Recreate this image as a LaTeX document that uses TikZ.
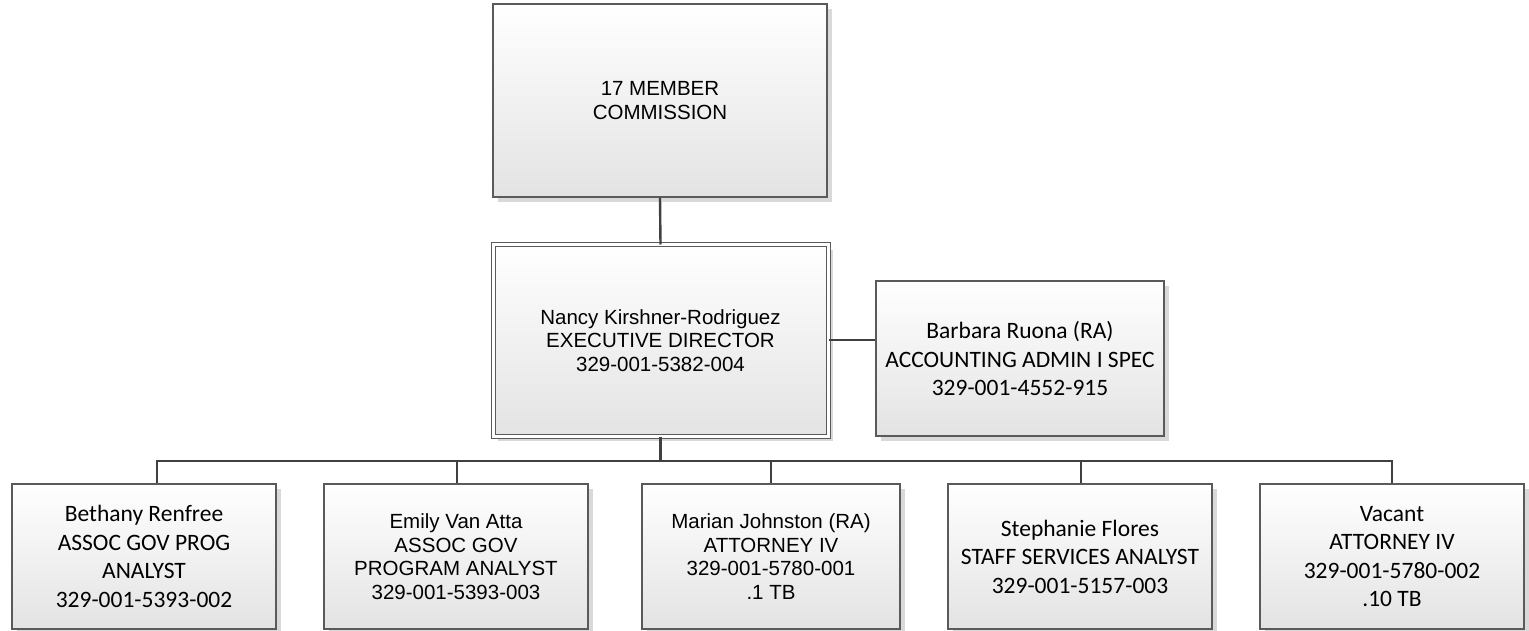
\documentclass[tikz,border=0pt]{standalone}
\usepackage{fontspec}
\setmainfont{Liberation Sans}
\newfontfamily\calfont{Carlito}
\usetikzlibrary{shadows}
\definecolor{boxline}{HTML}{5A5A5A}
\definecolor{conn}{HTML}{404040}
\tikzset{
  x=1pt, y=-1pt,
  orgbox/.style={draw=boxline, line width=1.1pt, shading=axis, top color=white, bottom color=black!11,
    drop shadow={fill=black!15, opacity=1, shadow xshift=5pt, shadow yshift=-5pt},
    align=center, inner sep=2pt, text=black},
  arialtxt/.style={font=\fontsize{20.5}{23.5}\selectfont},
  calitxt/.style={font=\calfont\fontsize{23.5}{28.5}\selectfont},
  link/.style={draw=conn, line width=2.4pt}
}
\begin{document}
\begin{tikzpicture}
\useasboundingbox (0,0) rectangle (1529,631);
% top
\node[orgbox, arialtxt, minimum width=334pt, minimum height=193pt] (comm) at (660,100.5) {17 MEMBER\\COMMISSION};
\node[orgbox, arialtxt, minimum width=335pt, minimum height=191pt, double=white, double distance=3pt, line width=1pt] (exec) at (660.5,340.5) {Nancy Kirshner-Rodriguez\\EXECUTIVE DIRECTOR\\329-001-5382-004};
\node[orgbox, calitxt, minimum width=288pt, minimum height=155pt] (barb) at (1020,358.5) {Barbara Ruona (RA)\\ACCOUNTING ADMIN I SPEC\\329-001-4552-915};
% bottom row
\node[orgbox, calitxt, minimum width=264pt, minimum height=145pt] (beth) at (144,556.5) {Bethany Renfree\\ASSOC GOV PROG\\ANALYST\\329-001-5393-002};
\node[orgbox, arialtxt, minimum width=264pt, minimum height=145pt] (emily) at (456,556.5) {Emily Van Atta\\ASSOC GOV\\PROGRAM ANALYST\\329-001-5393-003};
\node[orgbox, arialtxt, minimum width=258pt, minimum height=145pt] (marian) at (771,556.5) {Marian Johnston (RA)\\ATTORNEY IV\\329-001-5780-001\\.1 TB};
\node[orgbox, calitxt, minimum width=264pt, minimum height=145pt] (steph) at (1080,556.5) {Stephanie Flores\\STAFF SERVICES ANALYST\\329-001-5157-003};
\node[orgbox, calitxt, minimum width=264pt, minimum height=145pt] (vac) at (1392,556.5) {Vacant\\ATTORNEY IV\\329-001-5780-002\\.10 TB};
% connectors
\draw[link] (comm.south) -- (exec.north);
\draw[link] (exec.east |- 0,340) -- (barb.west |- 0,340);
\coordinate (busL) at (157,461);
\coordinate (busE) at (457,461);
\coordinate (busM) at (771,461);
\coordinate (busS) at (1081,461);
\coordinate (busR) at (1392,461);
\draw[link] (exec.south) -- (exec.south |- busL);
\draw[link, line join=miter] (busL |- beth.north) -- (busL) -- (busR) -- (busR |- vac.north);
\draw[link] (busE) -- (busE |- emily.north);
\draw[link] (busM) -- (busM |- marian.north);
\draw[link] (busS) -- (busS |- steph.north);
\end{tikzpicture}
\end{document}
